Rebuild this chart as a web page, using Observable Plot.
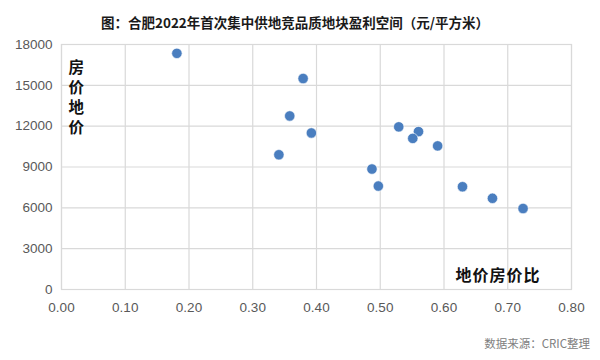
<!DOCTYPE html>
<html><head><meta charset="utf-8">
<script src="https://cdn.jsdelivr.net/npm/d3@7"></script>
<script src="https://cdn.jsdelivr.net/npm/@observablehq/plot@0.6"></script>
<style>
body{margin:0;background:#fff;}
#wrap{position:relative;width:600px;height:360px;font-family:"Noto Sans CJK SC","Liberation Sans",sans-serif;}
#title{position:absolute;left:0;width:590px;top:12px;text-align:center;font-size:13.5px;font-weight:bold;color:#1a1a1a;}
#caption{position:absolute;right:10px;top:335px;font-size:11.5px;color:#808080;}
</style></head>
<body><div id="wrap"><div id="title">图：合肥2022年首次集中供地竞品质地块盈利空间（元/平方米）</div><div id="chart"></div><div id="caption">数据来源：CRIC整理</div></div>
<script>
const ratio = [0.181,0.379,0.358,0.392,0.341,0.529,0.560,0.551,0.590,0.487,0.497,0.629,0.676,0.724];
const price = [17350,15500,12750,11500,9900,11950,11600,11100,10550,8850,7600,7550,6700,5950];
const xTicks = [0,0.1,0.2,0.3,0.4,0.5,0.6,0.7,0.8];
const yTicks = [0,3000,6000,9000,12000,15000,18000];
const yLabel = "房\n价\n地\n价";
const xLabel = "地价房价比";
const data = ratio.map((r,i)=>({r, p: price[i]}));

const chart = Plot.plot({
  width: 600, height: 360,
  marginLeft: 61, marginRight: 29, marginTop: 44, marginBottom: 71,
  style: {fontFamily: "'Liberation Sans', sans-serif", fontSize: "13.5px", color: "#595959", background: "#fff"},
  x: {domain: [0, 0.8], label: null},
  y: {domain: [0, 18000], label: null},
  marks: [
    Plot.gridX(xTicks, {stroke: "#d9d9d9", strokeOpacity: 1, strokeWidth: 1.2}),
    Plot.gridY(yTicks, {stroke: "#d9d9d9", strokeOpacity: 1, strokeWidth: 1.2}),
    Plot.frame({stroke: "#d9d9d9", strokeWidth: 1.2}),
    Plot.axisX({ticks: xTicks, tickFormat: d3.format(".2f"), tickSize: 0, tickPadding: 13, fill: "#595959", fontSize: 13.5, label: null}),
    Plot.axisY({ticks: yTicks, tickFormat: d => String(d), tickSize: 0, tickPadding: 9, fill: "#595959", fontSize: 13.5, label: null}),
    Plot.dot(data, {x: "r", y: "p", r: 5.2, fill: "#4a7ebf", stroke: "#fff", strokeWidth: 0.6}),
    Plot.text([yLabel], {frameAnchor: "top-left", dx: 7, dy: 14, lineAnchor: "top", lineHeight: 1.3, textAnchor: "start",
      text: d=>d, fontWeight: "bold", fontSize: 15.5, fill: "#111", fontFamily: "'Noto Sans CJK SC', sans-serif"}),
    Plot.text([xLabel], {frameAnchor: "bottom-right", dx: -31, dy: -9, text: d=>d, fontWeight: "bold", fontSize: 16, fill: "#111",
      fontFamily: "'Noto Sans CJK SC', sans-serif", style: "letter-spacing:1px"})
  ]
});
chart.querySelectorAll("g[aria-label='text'] text").forEach(el => {
  if (el.textContent === xLabel) el.style.letterSpacing = "1px";
});
document.getElementById("chart").appendChild(chart);
</script>
</body></html>
